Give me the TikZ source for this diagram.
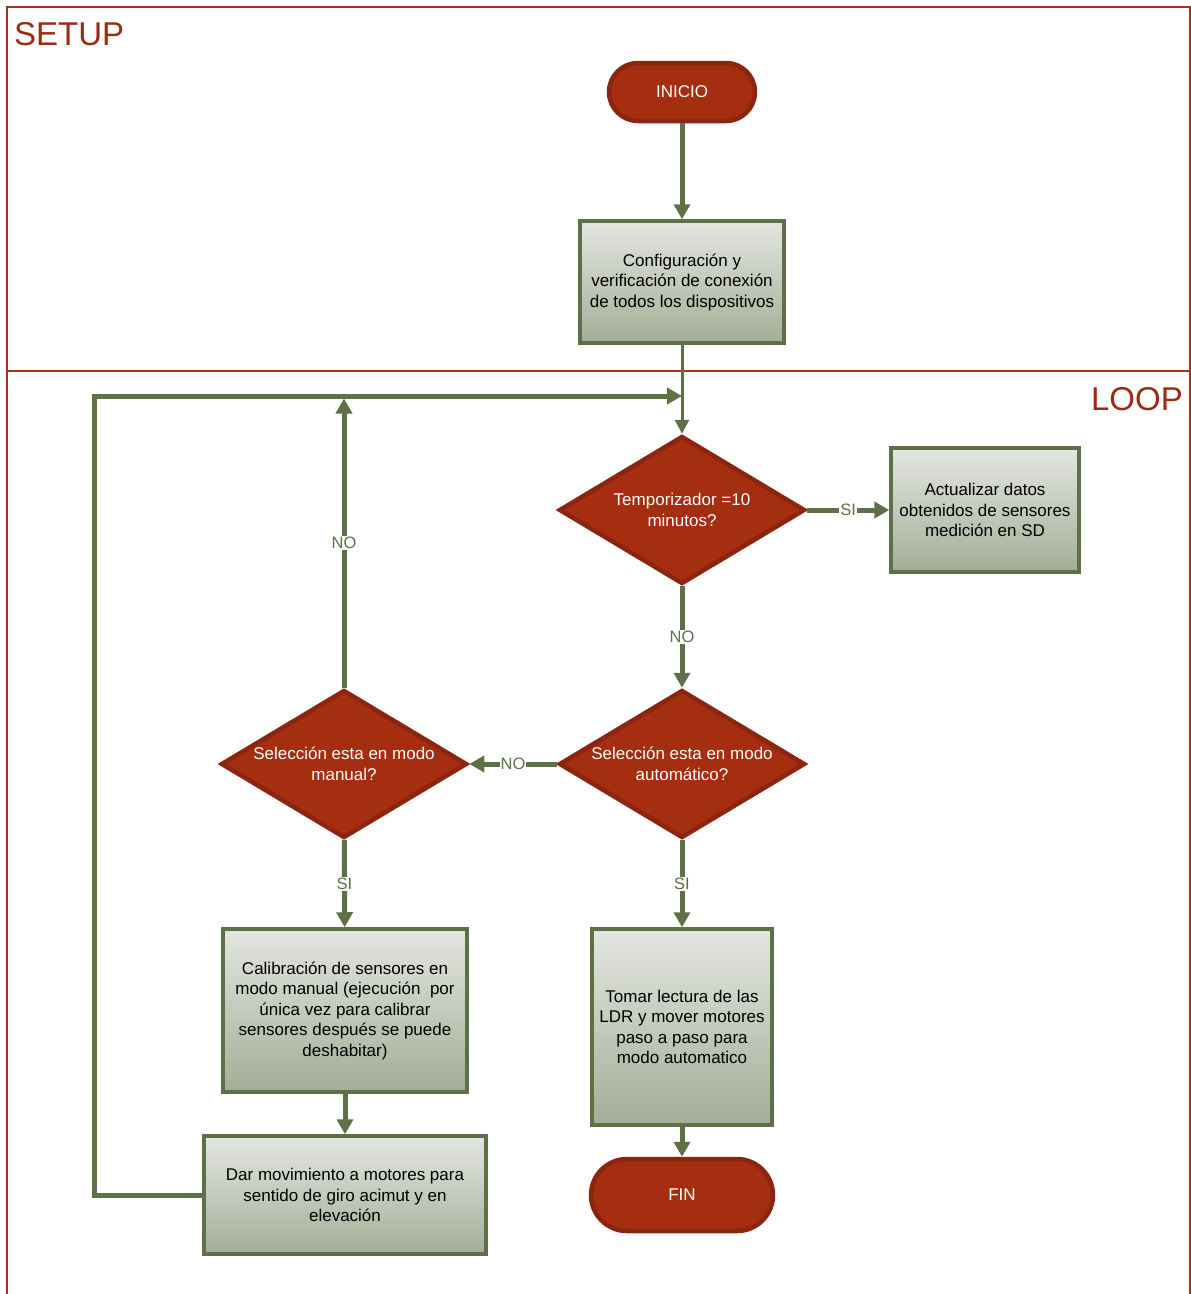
\documentclass[tikz,border=0pt]{standalone}
\usepackage{fontspec}
\setmainfont{Liberation Sans}
\usetikzlibrary{shapes.geometric,arrows.meta}
\definecolor{frame}{HTML}{A0331E}
\definecolor{ttl}{HTML}{9A2A12}
\definecolor{redfill}{HTML}{A52D10}
\definecolor{redline}{HTML}{8B2510}
\definecolor{grn}{HTML}{5E7045}
\definecolor{btop}{HTML}{E4E6E0}
\definecolor{bbot}{HTML}{A3AD97}
\begin{document}
\begin{tikzpicture}[x=1pt,y=-1pt,
  txt/.style={font=\fontsize{17}{20.5}\selectfont},
  procbox/.style={rectangle, draw=grn, line width=3.5pt, top color=btop, bottom color=bbot, align=center, txt, text=black, inner sep=0pt},
  decision/.style={diamond, draw=redline, line width=4.5pt, fill=redfill, text=white, align=center, txt, minimum width=246pt, minimum height=148pt, aspect=1.66, inner sep=0pt},
  terminal/.style={rectangle, draw=redline, line width=4.5pt, fill=redfill, text=white, txt, inner sep=0pt},
  flow/.style={draw=grn, line width=5pt, -{Triangle[length=15pt,width=16pt]}},
  flowthin/.style={draw=grn, line width=3pt, -{Triangle[length=14pt,width=14pt]}},
  lbl/.style={fill=white, text=grn, font=\fontsize{16.5}{18}\selectfont, inner sep=1pt},
  section/.style={text=ttl, font=\fontsize{33}{36}\selectfont, inner sep=0pt}
]
\useasboundingbox (0,0) rectangle (1191,1294);
% frame
\draw[frame, line width=1.5pt] (7,1294) -- (7,7) -- (1190,7) -- (1190,1294);
\draw[frame, line width=1.5pt] (7,371) -- (1190,371);
\node[section, anchor=west] (setup) at (14,34) {SETUP};
\node[section, anchor=east] (loop) at (1183,399) {LOOP};

% nodes
\node[terminal, rounded corners=29pt, minimum width=146pt, minimum height=58pt] (ini) at (682,92) {INICIO};
\node[procbox, minimum width=204pt, minimum height=122pt] (cfg) at (682,282) {Configuración y\\verificación de conexión\\de todos los dispositivos};
\node[decision] (d1) at (682,510) {Temporizador =10\\minutos?};
\node[procbox, minimum width=188pt, minimum height=124pt] (act) at (985,510) {Actualizar datos\\obtenidos de sensores\\medición en SD};
\node[decision] (d2) at (682,764) {Selección esta en modo\\automático?};
\node[decision] (dman) at (344,764) {Selección esta en modo\\manual?};
\node[procbox, minimum width=244pt, minimum height=163pt] (cal) at (345,1010.5) {Calibración de sensores en\\modo manual (ejecución\ \ por\\única vez para calibrar\\sensores después se puede\\deshabitar)};
\node[procbox, minimum width=282pt, minimum height=118pt] (dar) at (345,1195) {Dar movimiento a motores para\\sentido de giro acimut y en\\elevación};
\node[procbox, minimum width=180pt, minimum height=196pt] (tom) at (682,1027) {Tomar lectura de las\\LDR y mover motores\\paso a paso para\\modo automatico};
\node[terminal, rounded corners=36pt, minimum width=182pt, minimum height=72pt] (fin) at (682,1195) {FIN};

% helper coordinates
\coordinate (lp1) at (94,1195);
\coordinate (lp2) at (94,396);
\coordinate (join) at (682,396);
\coordinate (joinm) at (344,398.5);

% connectors
\draw[flow] (ini) -- (cfg);
\draw[flowthin] (cfg) -- (d1);
\draw[flow] (d1) -- node[lbl]{SI} (act);
\draw[flow] (d1) -- node[lbl]{NO} (d2);
\draw[flow] (d2) -- node[lbl]{NO} (dman);
\draw[flow] (d2) -- node[lbl]{SI} (tom);
\draw[flow] (dman) -- node[lbl]{SI} (cal);
\draw[flow] (dman.north) -- node[lbl]{NO} (joinm);
\draw[flow] (cal) -- (dar);
\draw[flow] (tom) -- (fin);
\draw[flow, line join=miter] (dar.west) -- (lp1) -- (lp2) -- (join);
\end{tikzpicture}
\end{document}
